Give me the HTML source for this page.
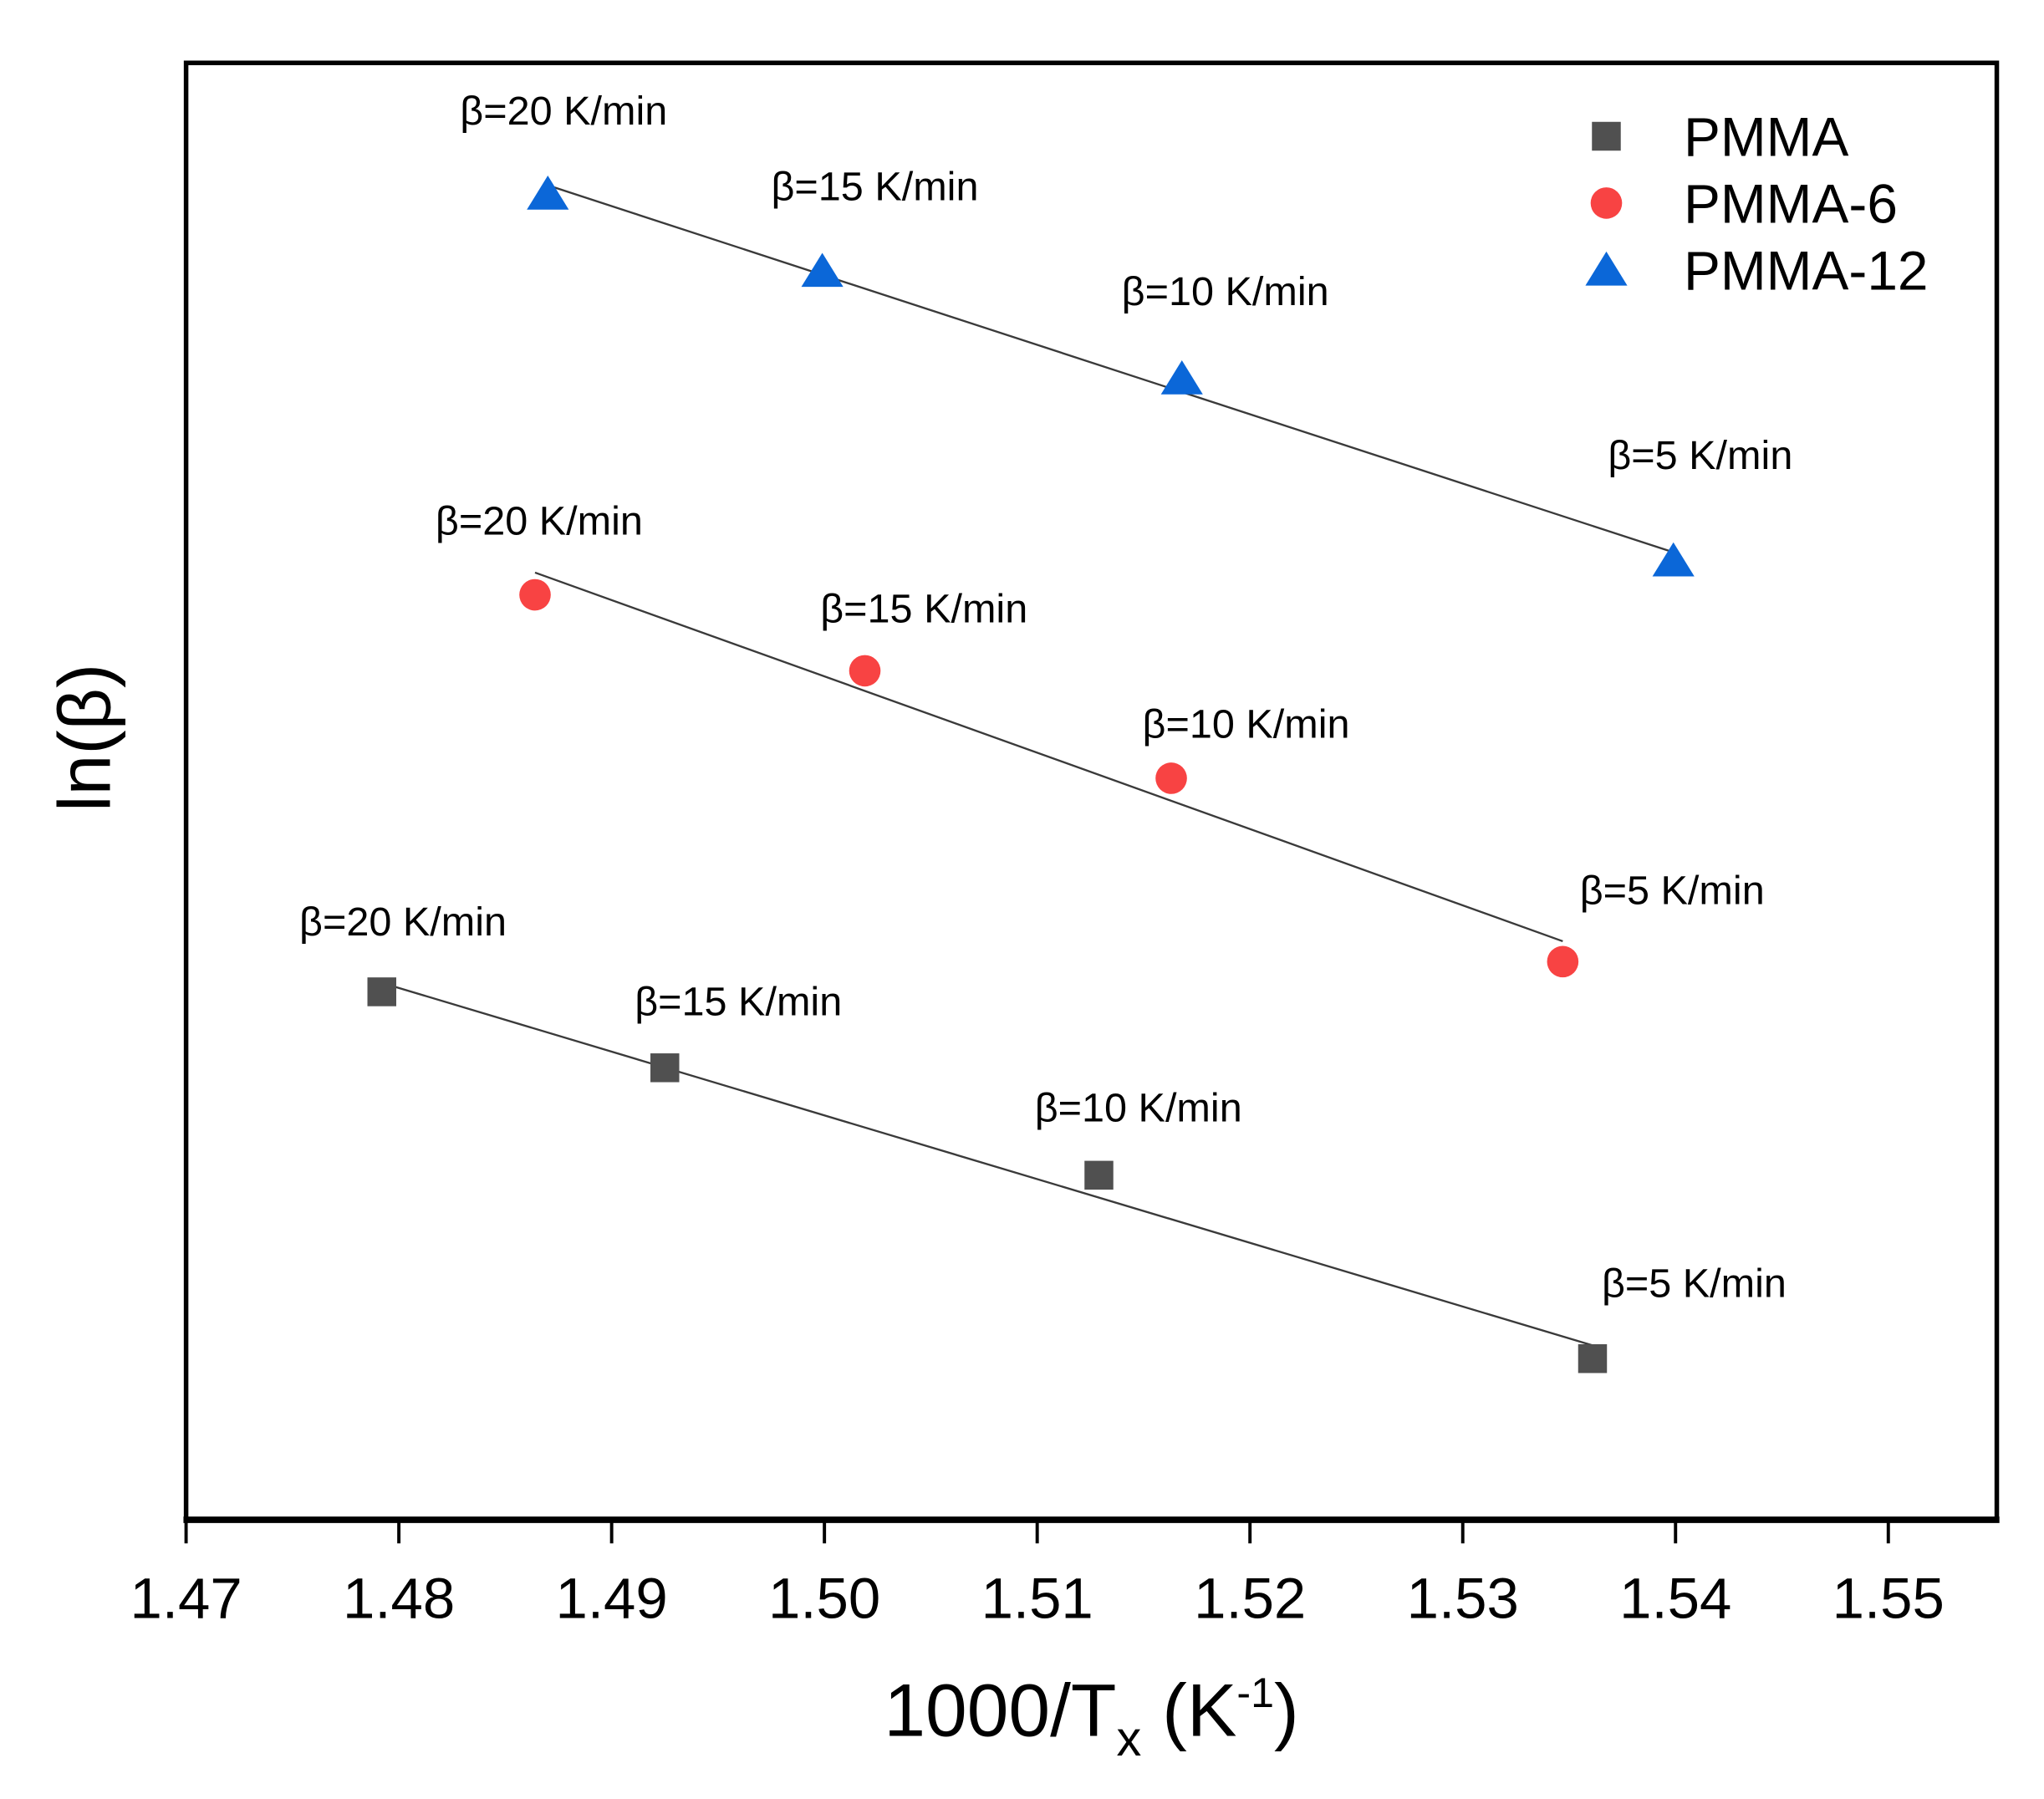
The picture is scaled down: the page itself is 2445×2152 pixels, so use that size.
<!DOCTYPE html>
<html><head><meta charset="utf-8"><style>
html,body{margin:0;padding:0;background:#fff;}
svg{display:block;font-family:"Liberation Sans",Arial,sans-serif;}
</style></head><body>
<svg id="chart" width="2445" height="2152" viewBox="0 0 1560 1373.1" xmlns="http://www.w3.org/2000/svg">
<rect x="0" y="0" width="1560" height="1373.1" fill="#fff"/>
<g id="marks"></g>
<rect x="142" y="48" width="1382" height="1112" fill="none" stroke="#000" stroke-width="3.5"/>
<line x1="140" x2="1526" y1="1160" y2="1160" stroke="#000" stroke-width="5"/>
<g id="xaxis"></g>
<text x="833" y="1325" font-size="57" text-anchor="middle">1000/T<tspan font-size="38" dy="15">x</tspan><tspan dy="-15"> (K</tspan><tspan font-size="32" dy="-22">-1</tspan><tspan dy="22">)</tspan></text>
<text transform="translate(84,563) rotate(-90)" font-size="56" text-anchor="middle">ln(β)</text>
<g>
<rect x="1215" y="93" width="22" height="22" fill="#505050"/>
<text x="1285" y="119" font-size="42">PMMA</text>
<circle cx="1226" cy="155" r="12" fill="#f84343"/>
<text x="1285" y="170" font-size="42">PMMA-6</text>
<polygon points="1226,192 1242,218 1210,218" fill="#0b67d8"/>
<text x="1285" y="221" font-size="42">PMMA-12</text>
</g>
</svg>
<script>
const xTicks = [1.47,1.48,1.49,1.50,1.51,1.52,1.53,1.54,1.55];
const xTickLabels = ["1.47","1.48","1.49","1.50","1.51","1.52","1.53","1.54","1.55"];
const betaLabels = ["β=20 K/min","β=15 K/min","β=10 K/min","β=5 K/min"];
const xPMMA = [1.4792,1.4925,1.5129,1.5361];
const yPMMA = [-0.015,-0.302,-0.708,-1.401];
const xPMMA6 = [1.4864,1.5019,1.5163,1.5347];
const yPMMA6 = [1.485,1.198,0.792,0.099];
const xPMMA12 = [1.4870,1.4999,1.5168,1.5399];
const yPMMA12 = [3.000,2.708,2.302,1.614];

const NS="http://www.w3.org/2000/svg";
const X0=142,X1=1524,Y0=48,Y1=1160;
const xMin=1.47,xPer=162.4/0.01;
const yTop=3.495,yBot=-2.010;
function sx(v){return X0+(v-xMin)*xPer;}
function sy(v){return Y0+(yTop-v)/(yTop-yBot)*(Y1-Y0);}
function mk(tag,attrs,parent){const e=document.createElementNS(NS,tag);for(const k in attrs)e.setAttribute(k,attrs[k]);parent.appendChild(e);return e;}

const xa=document.getElementById('xaxis');
xTicks.forEach((t,i)=>{
  const l=mk('line',{x1:sx(t),x2:sx(t),y1:Y1,y2:Y1+18,stroke:'#000','stroke-width':2.5},xa);
  
  
  const tx=mk('text',{x:sx(t),y:1235,'font-size':44,'text-anchor':'middle'},xa);
  tx.textContent=xTickLabels[i];
  
  
});

const marks=document.getElementById('marks');
function fitLine(xs,ys,name){
  const n=xs.length;let mx=0,my=0;xs.forEach((v,i)=>{mx+=v;my+=ys[i];});mx/=n;my/=n;
  let sxy=0,sxx=0;xs.forEach((v,i)=>{sxy+=(v-mx)*(ys[i]-my);sxx+=(v-mx)*(v-mx);});
  const b=sxy/sxx,a=my-b*mx;const xa0=Math.min(...xs),xa1=Math.max(...xs);
  const l=mk('line',{x1:sx(xa0),y1:sy(a+b*xa0),x2:sx(xa1),y2:sy(a+b*xa1),stroke:'#3a3a3a','stroke-width':1.5},marks);
  
  
}
function labels(xs,ys,dx,dy,name){
  xs.forEach((v,i)=>{
    const t=mk('text',{x:sx(v)+dx[i],y:sy(ys[i])+dy[i],'font-size':31},marks);
    t.textContent=betaLabels[i];
    
    
  });
}
fitLine(xPMMA,yPMMA,'fit-line-pmma');
fitLine(xPMMA6,yPMMA6,'fit-line-pmma-6');
fitLine(xPMMA12,yPMMA12,'fit-line-pmma-12');
xPMMA.forEach((v,i)=>{
  const r=mk('rect',{x:sx(v)-11,y:sy(yPMMA[i])-11,width:22,height:22,fill:'#505050'},marks);
  
  
});
xPMMA6.forEach((v,i)=>{
  const c=mk('circle',{cx:sx(v),cy:sy(yPMMA6[i]),r:12,fill:'#f84343'},marks);
  
  
});
xPMMA12.forEach((v,i)=>{
  const X=sx(v),Y=sy(yPMMA12[i]);
  const p=mk('polygon',{points:`${X},${Y-14} ${X+16},${Y+12} ${X-16},${Y+12}`,fill:'#0b67d8'},marks);
  
  
});
labels(xPMMA12,yPMMA12,[-67,-39,-46,-50],[-53,-54,-56,-70],'annotation-pmma-12');
labels(xPMMA6,yPMMA6,[-76,-34,-22,13],[-46,-37,-31,-44],'annotation-pmma-6');
labels(xPMMA,yPMMA,[-63,-23,-49,7],[-43,-40,-41,-47],'annotation-pmma');
</script>
</body></html>
